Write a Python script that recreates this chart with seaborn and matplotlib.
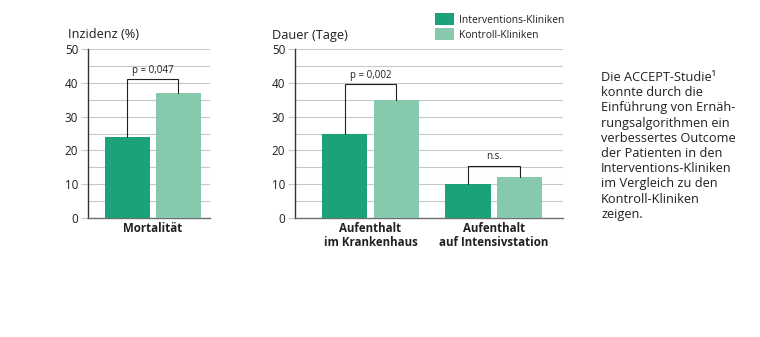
import matplotlib
matplotlib.use("Agg")
import matplotlib.pyplot as plt
from matplotlib.patches import Patch
import seaborn as sns
import pandas as pd

# --- data -------------------------------------------------------------
groups = ["Interventions-Kliniken", "Kontroll-Kliniken"]

mort_cats = ["Mortalität"]
mort_interv = [24]
mort_ctrl = [37]
mort_p = ["p = 0,047"]
mort_bracket = [41]

stay_cats = ["Aufenthalt\nim Krankenhaus", "Aufenthalt\nauf Intensivstation"]
stay_interv = [25, 10]
stay_ctrl = [35, 12]
stay_p = ["p = 0,002", "n.s."]
stay_bracket = [39.5, 15.5]

yticks = [0, 10, 20, 30, 40, 50]

note = ("Die ACCEPT-Studie\u00b9\nkonnte durch die\nEinführung von Ernäh-\n"
        "rungsalgorithmen ein\nverbessertes Outcome\nder Patienten in den\n"
        "Interventions-Kliniken\nim Vergleich zu den\nKontroll-Kliniken\nzeigen.")

# --- style ------------------------------------------------------------
sns.set_theme(style="white")
plt.rcParams["font.family"] = ["Open Sans", "DejaVu Sans"]
TXT = "#231f20"
GRID = "#c8c8c8"
palette = {groups[0]: "#1ba27a", groups[1]: "#86c9ad"}
BAR_W = 0.84

FS_TICK = 8.4
FS_CAT = 8.3
FS_P = 7.0
FS_LEG = 7.4
FS_HEAD = 9.2
FS_NOTE = 9.2


def frame(cats, a, b):
    return pd.DataFrame({
        "cat": cats * 2,
        "grp": [groups[0]] * len(cats) + [groups[1]] * len(cats),
        "val": list(a) + list(b),
    })


def panel(ax, cats, a, b, plabels, brackets, xlim):
    sns.barplot(data=frame(cats, a, b), x="cat", y="val", hue="grp",
                hue_order=groups, palette=palette, width=BAR_W, gap=0.13,
                legend=False, ax=ax, saturation=1, linewidth=0, zorder=3)
    ax.set_ylim(0, 50)
    ax.set_xlim(*xlim)
    ax.set_yticks(yticks)
    ax.set_yticks(range(5, 50, 10), minor=True)
    ax.grid(axis="y", which="both", color=GRID, linewidth=0.8, zorder=0)
    ax.set_axisbelow(True)
    ax.tick_params(axis="y", which="major", left=True, length=5, width=0.8,
                   color=GRID, labelsize=FS_TICK, labelcolor=TXT, pad=2)
    ax.tick_params(axis="y", which="minor", left=False)
    ax.tick_params(axis="x", bottom=False, labelsize=FS_CAT,
                   labelcolor=TXT, pad=-3)
    for lab in ax.get_xticklabels():
        lab.set_fontweight("bold")
        lab.set_linespacing(1.05)
    for s in ["top", "right"]:
        ax.spines[s].set_visible(False)
    ax.spines["left"].set_color("#333333")
    ax.spines["left"].set_linewidth(1.0)
    ax.spines["bottom"].set_color("#6e6e6e")
    ax.spines["bottom"].set_linewidth(1.0)
    ax.set_xlabel("")
    ax.set_ylabel("")
    # significance brackets between the two bars of each category
    off = BAR_W / 4
    for i, (va, vb, top, lab) in enumerate(zip(a, b, brackets, plabels)):
        x0, x1 = i - off, i + off
        ax.plot([x0, x0, x1, x1], [va, top, top, vb], color="#231f20",
                linewidth=0.8, zorder=4, solid_joinstyle="miter")
        ax.text(i, top + 1.0, lab, ha="center", va="bottom", fontsize=FS_P,
                color=TXT, zorder=5)


fig = plt.figure(figsize=(7.6, 3.37), dpi=100)
W, H = 760, 337


def axes_px(x0, x1, ytop, ybot):
    return fig.add_axes([x0 / W, 1 - ybot / H, (x1 - x0) / W, (ybot - ytop) / H])


ax1 = axes_px(88, 210, 49, 218)
ax2 = axes_px(295, 563, 49, 218)

panel(ax1, mort_cats, mort_interv, mort_ctrl, mort_p, mort_bracket,
      (-0.535, 0.47))
panel(ax2, stay_cats, stay_interv, stay_ctrl, stay_p, stay_bracket,
      (-0.611, 1.559))

fig.text(68 / W, 1 - 34 / H, "Inzidenz (%)", fontsize=FS_HEAD, color=TXT,
         ha="left", va="center")
fig.text(272 / W, 1 - 36 / H, "Dauer (Tage)", fontsize=FS_HEAD, color=TXT,
         ha="left", va="center")

handles = [Patch(facecolor=palette[g], edgecolor="none") for g in groups]
fig.legend(handles, groups, loc="upper left",
           bbox_to_anchor=(435 / W, 1 - 13 / H), frameon=False,
           fontsize=FS_LEG, borderpad=0, borderaxespad=0,
           handlelength=1.85, handleheight=1.45, handletextpad=0.45,
           labelspacing=0.25, labelcolor=TXT)

fig.text(601 / W, 1 - 71 / H, note, fontsize=FS_NOTE, color=TXT,
         ha="left", va="top", linespacing=1.22)

fig.savefig("out.png", dpi=100)
